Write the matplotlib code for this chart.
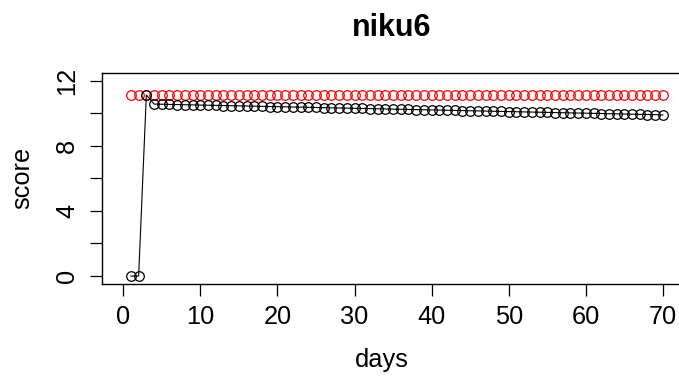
import matplotlib
matplotlib.use("Agg")
import matplotlib.pyplot as plt

days = list(range(1, 71))
red_scores = [11.10] * 70
black_scores = [0.0, 0.0, 11.12,
                10.56, 10.55, 10.54, 10.53, 10.52, 10.51, 10.50, 10.49, 10.48, 10.47,
                10.46, 10.45, 10.44, 10.43, 10.42, 10.41, 10.40, 10.39, 10.38, 10.37,
                10.36, 10.35, 10.34, 10.33, 10.32, 10.31, 10.30, 10.29, 10.28, 10.27,
                10.26, 10.25, 10.24, 10.23, 10.22, 10.21, 10.20, 10.19, 10.18, 10.17,
                10.16, 10.15, 10.14, 10.13, 10.12, 10.11, 10.10, 10.09, 10.08, 10.07,
                10.06, 10.05, 10.04, 10.03, 10.02, 10.01, 10.00, 9.99, 9.98, 9.97,
                9.96, 9.95, 9.94, 9.93, 9.92, 9.91, 9.89]
xticks = [0, 10, 20, 30, 40, 50, 60, 70]
yticks_major = [0, 4, 8, 12]
yticks_minor = [2, 6, 10]

plt.rcParams['font.family'] = ['Liberation Sans', 'DejaVu Sans']

W, H = 679, 376
fig = plt.figure(figsize=(W / 100, H / 100), dpi=100)
left, right = 101.7, 684.0
top, bottom = 73.3, 283.7
ax = fig.add_axes([left / W, 1 - bottom / H, (right - left) / W, (bottom - top) / H])

x0 = -2.79
px_per_unit = 7.71
ax.set_xlim(x0, x0 + (right - left) / px_per_unit)
ax.set_ylim(-0.47, 12.45)

ax.plot(days, red_scores, linestyle='none', marker='o', markersize=6.9,
        markerfacecolor='none', markeredgecolor='#ff0000', markeredgewidth=0.9)
ax.plot(days, black_scores, color='black', linewidth=0.8, marker='o', markersize=6.9,
        markerfacecolor='none', markeredgecolor='black', markeredgewidth=0.9)

for s in ax.spines.values():
    s.set_linewidth(1.0)
    s.set_color('black')

fs = 18.3
ax.set_xticks(xticks)
ax.set_xticklabels([str(v) for v in xticks], fontsize=fs)
ax.set_yticks(yticks_major)
ax.set_yticklabels([str(v) for v in yticks_major], fontsize=fs, rotation=90, va='center')
ax.set_yticks(yticks_minor, minor=True)
ax.tick_params(axis='both', which='both', direction='out', length=8.3, width=0.9, color='black')
ax.tick_params(axis='x', pad=7)
ax.tick_params(axis='y', pad=8)

ax.set_xlabel('days', fontsize=fs)
ax.xaxis.set_label_coords((382 - left) / (right - left), -(360 - bottom) / (bottom - top))
ax.xaxis.label.set_va('center')
ax.set_ylabel('score', fontsize=fs)
ax.yaxis.set_label_coords(-(left - 22) / (right - left), (bottom - 178) / (bottom - top))
ax.yaxis.label.set_va('center')

fig.text(392 / W, 1 - 28 / H, 'niku6', fontsize=22, fontweight='bold', ha='center', va='center')

fig.savefig('out.png', dpi=100)
